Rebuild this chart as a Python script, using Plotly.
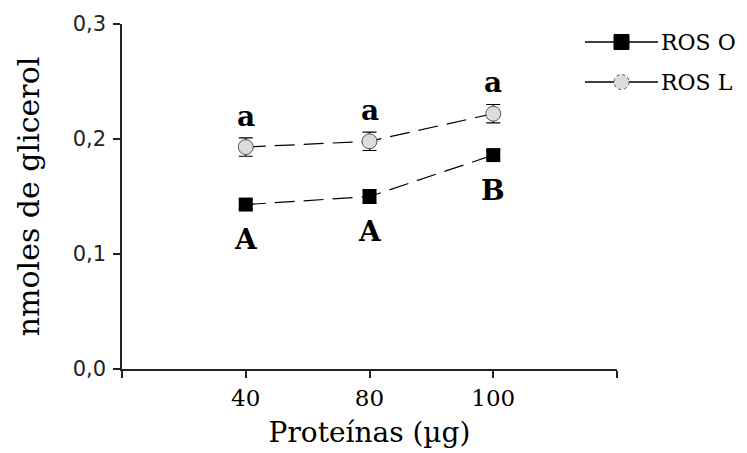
import plotly.graph_objects as go

categories = ["40", "80", "100"]
ros_o = [0.143, 0.150, 0.186]
ros_o_err = [0.004, 0.006, 0.004]
ros_l = [0.193, 0.198, 0.222]
ros_l_err = [0.008, 0.008, 0.008]
letters_o = ["A", "A", "B"]
letters_l = ["a", "a", "a"]
series_names = ["ROS O", "ROS L"]
y_ticks = [0.0, 0.1, 0.2, 0.3]

xpos = [i + 1 for i in range(len(categories))]
serif = "DejaVu Serif"

# plot area in pixels (for the hand-drawn legend)
L, R, T, B = 122, 617, 24, 369
PW, PH = R - L, B - T


def px(xp):
    return (xp - L) / PW


def py(yp):
    return 1 - (yp - T) / PH


fig = go.Figure()
fig.add_trace(go.Scatter(
    x=xpos, y=ros_o, mode="lines+markers", name=series_names[0],
    line=dict(color="black", width=1.2, dash="20px,9px"),
    marker=dict(symbol="square", size=14, color="black"),
    error_y=dict(type="data", array=ros_o_err, color="black", thickness=1.2, width=7),
    showlegend=False,
))
fig.add_trace(go.Scatter(
    x=xpos, y=ros_l, mode="lines+markers", name=series_names[1],
    line=dict(color="black", width=1.2, dash="20px,9px"),
    marker=dict(symbol="circle", size=15, color="#dcdcdc",
                line=dict(color="#555555", width=1)),
    error_y=dict(type="data", array=ros_l_err, color="black", thickness=1.2, width=7),
    showlegend=False,
))

annotations = []
for x, y, t in zip(xpos, ros_l, letters_l):
    annotations.append(dict(x=x, y=y, text="<b>%s</b>" % t, showarrow=False,
                            yshift=31, font=dict(family=serif, size=28, color="black")))
for x, y, t in zip(xpos, ros_o, letters_o):
    annotations.append(dict(x=x, y=y, text="<b>%s</b>" % t, showarrow=False,
                            yshift=-35, font=dict(family=serif, size=28, color="black")))

# custom legend (solid lines with markers)
shapes = []
for i, name in enumerate(series_names):
    yc = 42 + 40 * i
    shapes.append(dict(type="line", xref="paper", yref="paper", x0=px(585), x1=px(658),
                       y0=py(yc), y1=py(yc), line=dict(color="black", width=1.4)))
    if i == 0:
        shapes.append(dict(type="rect", xref="paper", yref="paper",
                           x0=px(614), x1=px(629), y0=py(yc + 7.5), y1=py(yc - 7.5),
                           fillcolor="black", line=dict(color="black", width=1)))
    else:
        shapes.append(dict(type="circle", xref="paper", yref="paper",
                           x0=px(614), x1=px(629), y0=py(yc + 7.5), y1=py(yc - 7.5),
                           fillcolor="#dcdcdc", line=dict(color="#555555", width=1, dash="dot")))
    annotations.append(dict(xref="paper", yref="paper", x=px(659), y=py(yc),
                            xanchor="left", yanchor="middle", text=name, showarrow=False,
                            font=dict(family=serif, size=22, color="black")))

fig.update_layout(
    width=747, height=453,
    margin=dict(l=L, r=747 - R, t=T, b=453 - B, autoexpand=False),
    plot_bgcolor="white", paper_bgcolor="white",
    separators=",.",
    shapes=shapes,
    annotations=annotations,
    xaxis=dict(
        range=[0, 4], tickvals=[0] + xpos + [4], ticktext=[""] + categories + [""],
        showgrid=False, zeroline=False, showline=True, linecolor="#222", linewidth=1.5,
        ticks="outside", ticklen=7, tickcolor="#222", tickwidth=1.5,
        tickfont=dict(family=serif, size=23, color="black"), ticklabelstandoff=1,
        title=dict(text="Proteínas (µg)", font=dict(family=serif, size=28, color="black"),
                   standoff=12),
    ),
    yaxis=dict(
        range=[0, 0.3], tickvals=y_ticks, tickformat=".1f",
        showgrid=False, zeroline=False, showline=True, linecolor="#222", linewidth=1.5,
        ticks="outside", ticklen=7, tickcolor="#222", tickwidth=1.5,
        tickfont=dict(family="DejaVu Sans", size=21, color="#222"), ticklabelstandoff=3,
        title=dict(text="nmoles de glicerol", font=dict(family=serif, size=30, color="black"),
                   standoff=24),
    ),
)

fig.write_html("out.html", config={"displayModeBar": False},
               post_script="document.body.style.margin='0';")
